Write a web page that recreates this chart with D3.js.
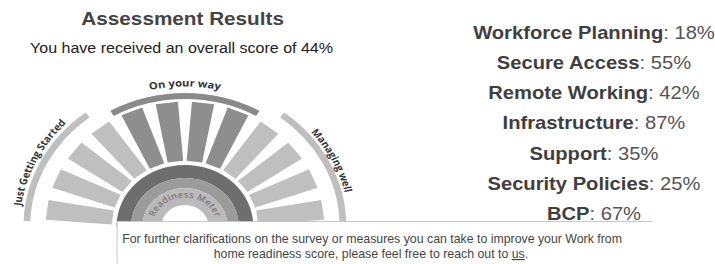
<!DOCTYPE html>
<html>
<head>
<meta charset="utf-8">
<script src="https://cdn.jsdelivr.net/npm/d3@7"></script>
<style>
  html, body { margin: 0; padding: 0; background: #fff; }
  svg { display: block; }
</style>
</head>
<body>
<div id="chart"></div>
<script>
const title = "Assessment Results";
const overallScore = 44;
const areaNames = ["Workforce Planning", "Secure Access", "Remote Working", "Infrastructure", "Support", "Security Policies", "BCP"];
const areaScores = [18, 55, 42, 87, 35, 25, 67];
const stageNames = ["Just Getting Started", "On your way", "Managing well"];
const rayStages = [0, 0, 0, 0, 1, 1, 1, 1, 2, 2, 2, 2];
const meterLabel = "Readiness Meter";
const noteLines = [
  "For further clarifications on the survey or measures you can take to improve your Work from",
  "home readiness score, please feel free to reach out to "
];
const noteLink = "us";

var width = 715;
var height = 264;
// the picture is a bit stretched sideways, so draw in a narrower box and let svg stretch it
var vbWidth = 638;
var rad = Math.PI / 180;

var svg = d3
  .select("#chart")
  .append("svg")
  .attr("width", width)
  .attr("height", height)
  .attr("viewBox", `0 0 ${vbWidth} ${height}`)
  .attr("preserveAspectRatio", "none");

var sans = "'Liberation Sans', Arial, sans-serif";
var round = "'Open Sans', 'Noto Sans', sans-serif";

/* Titles */
svg
  .append("text")
  .attr("x", 163)
  .attr("y", 25)
  .attr("text-anchor", "middle")
  .style("font-family", sans)
  .style("font-weight", "bold")
  .style("font-size", "18.5px")
  .style("fill", "#444")
  .text(title);

svg
  .append("text")
  .attr("x", 162)
  .attr("y", 53)
  .attr("text-anchor", "middle")
  .style("font-family", sans)
  .style("font-size", "14.3px")
  .style("fill", "#222")
  .text(`You have received an overall score of ${overallScore}%`);

/* Gauge */
var gauge = svg.append("g").attr("transform", "translate(165, 226)");

var angle = d3
  .scaleBand()
  .domain(d3.range(rayStages.length))
  .range([-90, 90]);

var rayColor = d3.scaleOrdinal().domain([0, 1, 2]).range(["#bfbfbf", "#8e8e8e", "#bfbfbf"]);

var r0 = 65, r1 = 124;
gauge
  .selectAll(".ray")
  .data(rayStages)
  .enter()
  .append("path")
  .attr("class", "ray")
  .attr("d", `M-7,${-r0}L-10,${-r1}L10,${-r1}L7,${-r0}Z`)
  .attr("transform", (d, i) => `rotate(${angle(i) + angle.bandwidth() / 2})`)
  .style("fill", (d) => rayColor(d));

// stage bands round the rays
var bandStyle = [
  { inner: 138, outer: 144, trim0: 2, trim1: 8, color: "#bfbfbf" },
  { inner: 127, outer: 133, trim0: 0, trim1: 0, color: "#8a8a8a" },
  { inner: 138, outer: 144, trim0: 8, trim1: 2, color: "#bfbfbf" }
];

var stageExtent = stageNames.map((s, k) => {
  var idx = d3.range(rayStages.length).filter((i) => rayStages[i] === k);
  return [angle(idx[0]), angle(idx[idx.length - 1]) + angle.bandwidth()];
});

gauge
  .selectAll(".band")
  .data(stageNames)
  .enter()
  .append("path")
  .attr("class", "band")
  .attr("d", (d, k) =>
    d3.arc()({
      innerRadius: bandStyle[k].inner,
      outerRadius: bandStyle[k].outer,
      startAngle: (stageExtent[k][0] + bandStyle[k].trim0) * rad,
      endAngle: (stageExtent[k][1] - bandStyle[k].trim1) * rad
    })
  )
  .style("fill", (d, k) => bandStyle[k].color);

// text paths for the stage names
function arcLine(r, a0, a1) {
  var p = d3.path();
  p.arc(0, 0, r, (a0 - 90) * rad, (a1 - 90) * rad, false);
  return p.toString();
}

var labelArcs = [
  { r: 147.5, a0: -100, a1: -28, size: 9.5 },
  { r: 139.5, a0: -40, a1: 40, size: 10 },
  { r: 146.5, a0: 27, a1: 100, size: 9.5 }
];

var defs = svg.append("defs");
labelArcs.forEach((a, k) => {
  defs.append("path").attr("id", "stage" + k).attr("d", arcLine(a.r, a.a0, a.a1));
});
defs.append("path").attr("id", "meterArc").attr("d", arcLine(28.5, -90, 90));

gauge
  .selectAll(".stage-label")
  .data(stageNames)
  .enter()
  .append("text")
  .attr("class", "stage-label")
  .style("font-family", round)
  .style("font-weight", "bold")
  .style("font-size", (d, k) => labelArcs[k].size + "px")
  .style("fill", "#333")
  .append("textPath")
  .attr("href", (d, k) => "#stage" + k)
  .attr("startOffset", "50%")
  .attr("text-anchor", "middle")
  .text((d) => d);

// readiness meter rings
var ring = [
  { inner: 48, outer: 61, color: "#6e6e6e" },
  { inner: 38, outer: 48, color: "#9b9b9b" },
  { inner: 21, outer: 38, color: "#bababa" }
];
gauge
  .selectAll(".ring")
  .data(ring)
  .enter()
  .append("path")
  .attr("class", "ring")
  .attr("d", (d) =>
    d3.arc()({ innerRadius: d.inner, outerRadius: d.outer, startAngle: -Math.PI / 2, endAngle: Math.PI / 2 })
  )
  .style("fill", (d) => d.color);

gauge
  .append("text")
  .style("font-family", round)
  .style("font-weight", "600")
  .style("font-size", "8.5px")
  .style("letter-spacing", "0.2px")
  .style("fill", "#7a7a7a")
  .append("textPath")
  .attr("href", "#meterArc")
  .attr("startOffset", "50%")
  .attr("text-anchor", "middle")
  .text(meterLabel);

/* Area scores on the right */
var rows = svg
  .selectAll(".area")
  .data(areaNames)
  .enter()
  .append("text")
  .attr("class", "area")
  .attr("x", 530)
  .attr("y", (d, i) => 39 + 30.15 * i)
  .attr("text-anchor", "middle")
  .style("font-family", sans)
  .style("font-size", "18px");

rows.append("tspan").style("font-weight", "bold").style("fill", "#3f3f3f").text((d) => d);
rows.append("tspan").style("fill", "#555").text((d, i) => `: ${areaScores[i]}%`);

/* Note box */
var box = svg.append("g");
box
  .append("rect")
  .attr("x", 104.5)
  .attr("y", 221)
  .attr("width", vbWidth)
  .attr("height", 60)
  .style("fill", "#fff");
box
  .append("path")
  .attr("d", "M104.5,264V221.5H582")
  .style("fill", "none")
  .style("stroke", "#c8c8c8")
  .style("stroke-width", 1)
  .attr("vector-effect", "non-scaling-stroke");

// the note font is a narrow one: squeeze both lines by the same factor
var first = box
  .append("text")
  .attr("text-anchor", "middle")
  .style("font-family", sans)
  .style("font-size", "12px")
  .style("fill", "#444")
  .text(noteLines[0]);

var last = box
  .append("text")
  .attr("text-anchor", "middle")
  .style("font-family", sans)
  .style("font-size", "12px")
  .style("fill", "#444");
last.append("tspan").text(noteLines[1]);
last.append("tspan").style("text-decoration", "underline").text(noteLink);
last.append("tspan").text(".");

var squeeze = 446 / first.node().getComputedTextLength();
first.attr("transform", `translate(332, 243) scale(${squeeze}, 1)`);
last.attr("transform", `translate(331, 258) scale(${squeeze}, 1)`);
</script>
</body>
</html>
